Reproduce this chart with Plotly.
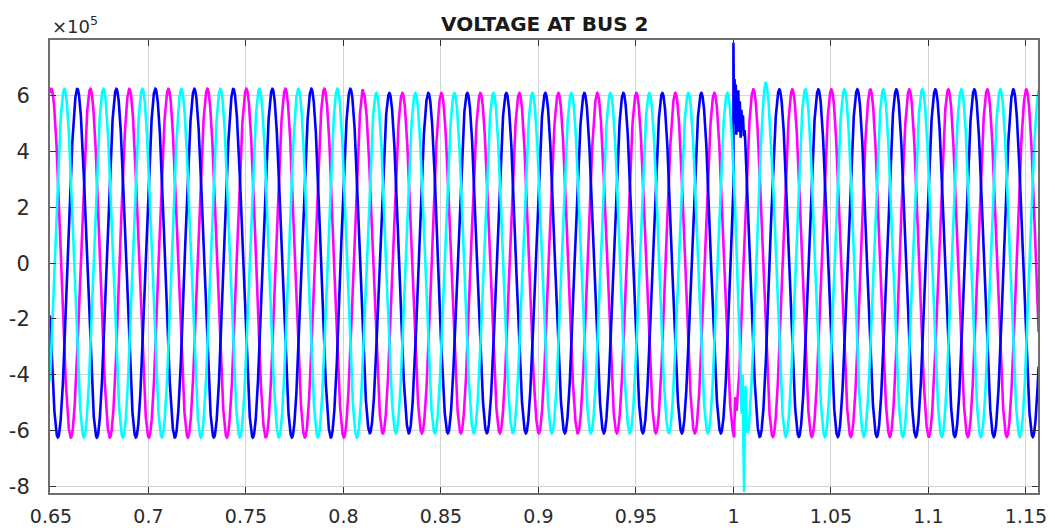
import numpy as np
import plotly.graph_objects as go

# ---- values (voltages in volts) ----
FREQ_HZ = 50.0
PHASE_NAMES = ["Va", "Vb", "Vc"]
PHASE_COLORS = ["#ff00ff", "#0000ff", "#00ffff"]
PEAK_TIME = [0.6502, 0.66353, 0.65687]          # time of a positive peak of each phase (s)
SEG_START = [0.6495, 0.81, 1.0]                   # steady segments (s)
SEG_AMP = [6.25e5, 6.10e5, 6.23e5]                # peak amplitude of each segment
T_START, T_END = 0.6495, 1.1565

# fault transient near t = 1.0 s (read point by point)
MAG_FAULT_T = [1.0004, 1.0010, 1.0016, 1.0024]
MAG_FAULT_V = [-5.9e5, -4.8e5, -5.3e5, -4.6e5]

BLUE_FAULT_T = [1.0000, 1.0003, 1.0006, 1.0009, 1.0012, 1.0015, 1.0018, 1.0021,
                1.0025, 1.0029, 1.0033, 1.0037, 1.0041, 1.0045, 1.0049, 1.0053, 1.0057]
BLUE_FAULT_V = [7.9e5, 5.2e5, 6.6e5, 5.0e5, 6.4e5, 4.6e5, 6.0e5, 5.1e5,
                6.2e5, 4.7e5, 5.8e5, 4.5e5, 5.5e5, 4.8e5, 5.3e5, 4.6e5, 4.6e5]

CYAN_FAULT_T = [1.0030, 1.0036, 1.0042, 1.0047, 1.0051, 1.0055, 1.0058, 1.0062, 1.0067,
                1.0073, 1.0079, 1.0085, 1.0092, 1.0100, 1.0110, 1.0120, 1.0130, 1.0140,
                1.0150, 1.0158, 1.0165, 1.0172, 1.0180, 1.0190, 1.0200]
CYAN_FAULT_V = [-1.9e5, -3.6e5, -5.4e5, -4.0e5, -6.4e5, -8.2e5, -5.6e5, -4.4e5, -5.9e5,
                -6.1e5, -5.9e5, -5.3e5, -4.4e5, -3.2e5, -1.4e5, 0.6e5, 2.5e5, 4.1e5,
                5.4e5, 6.2e5, 6.5e5, 6.3e5, 5.8e5, 4.7e5, 3.2e5]

FAULTS = [(MAG_FAULT_T, MAG_FAULT_V), (BLUE_FAULT_T, BLUE_FAULT_V), (CYAN_FAULT_T, CYAN_FAULT_V)]

X_TICKS = [0.65, 0.7, 0.75, 0.8, 0.85, 0.9, 0.95, 1.0, 1.05, 1.1, 1.15]
X_TICK_TEXT = ["0.65", "0.7", "0.75", "0.8", "0.85", "0.9", "0.95", "1", "1.05", "1.1", "1.15"]
Y_TICKS = [-8e5, -6e5, -4e5, -2e5, 0, 2e5, 4e5, 6e5]
Y_TICK_TEXT = ["-8", "-6", "-4", "-2", "0", "2", "4", "6"]

TITLE = "VOLTAGE AT BUS 2"

# ---- build the waveforms ----
t = np.arange(T_START, T_END, 0.00005)
amp = np.full_like(t, SEG_AMP[0])
for s, a in zip(SEG_START, SEG_AMP):
    amp[t >= s] = a

fig = go.Figure()
for name, color, pk, (ft, fv) in zip(PHASE_NAMES, PHASE_COLORS, PEAK_TIME, FAULTS):
    v = amp * np.cos(2 * np.pi * FREQ_HZ * (t - pk))
    keep = (t < ft[0]) | (t > ft[-1])
    tt = np.concatenate([t[keep], np.array(ft)])
    vv = np.concatenate([v[keep], np.array(fv)])
    order = np.argsort(tt)
    fig.add_trace(go.Scatter(x=tt[order], y=vv[order], mode="lines", name=name,
                             line=dict(color=color, width=2.6), showlegend=False))

FONT = "DejaVu Sans"
axis_common = dict(showgrid=True, gridcolor="#d4d4d4", gridwidth=1, zeroline=False,
                   showline=True, linecolor="#6e6e6e", linewidth=2, mirror="allticks",
                   ticks="inside", ticklen=6, tickcolor="#333333", tickwidth=1,
                   automargin=False)

fig.update_xaxes(range=[0.6495, 1.1562], tickvals=X_TICKS, ticktext=X_TICK_TEXT,
                 ticklabelstandoff=5,
                 tickfont=dict(family=FONT, size=19, color="#2b2b2b"), **axis_common)
fig.update_yaxes(range=[-8.24e5, 8.0e5], tickvals=Y_TICKS, ticktext=Y_TICK_TEXT,
                 ticklabelstandoff=14,
                 tickfont=dict(family=FONT, size=21, color="#2b2b2b"), **axis_common)

fig.update_layout(
    width=1055, height=530,
    margin=dict(l=50, r=17, t=40, b=37, autoexpand=False),
    paper_bgcolor="white", plot_bgcolor="white",
    annotations=[
        dict(text="<b>" + TITLE + "</b>", xref="paper", yref="paper", x=0.5, y=1.0,
             xanchor="center", yanchor="middle", yshift=16, showarrow=False,
             font=dict(family=FONT, size=20, color="#1a1a1a")),
        dict(text="×10<sup>5</sup>", xref="paper", yref="paper", x=0.0, y=1.0,
             xanchor="left", yanchor="bottom", yshift=1, showarrow=False,
             font=dict(family=FONT, size=18, color="#2b2b2b")),
    ],
)

fig.write_html("out.html", config={"displayModeBar": False},
               post_script="document.body.style.margin='0';document.body.style.overflow='hidden';")
